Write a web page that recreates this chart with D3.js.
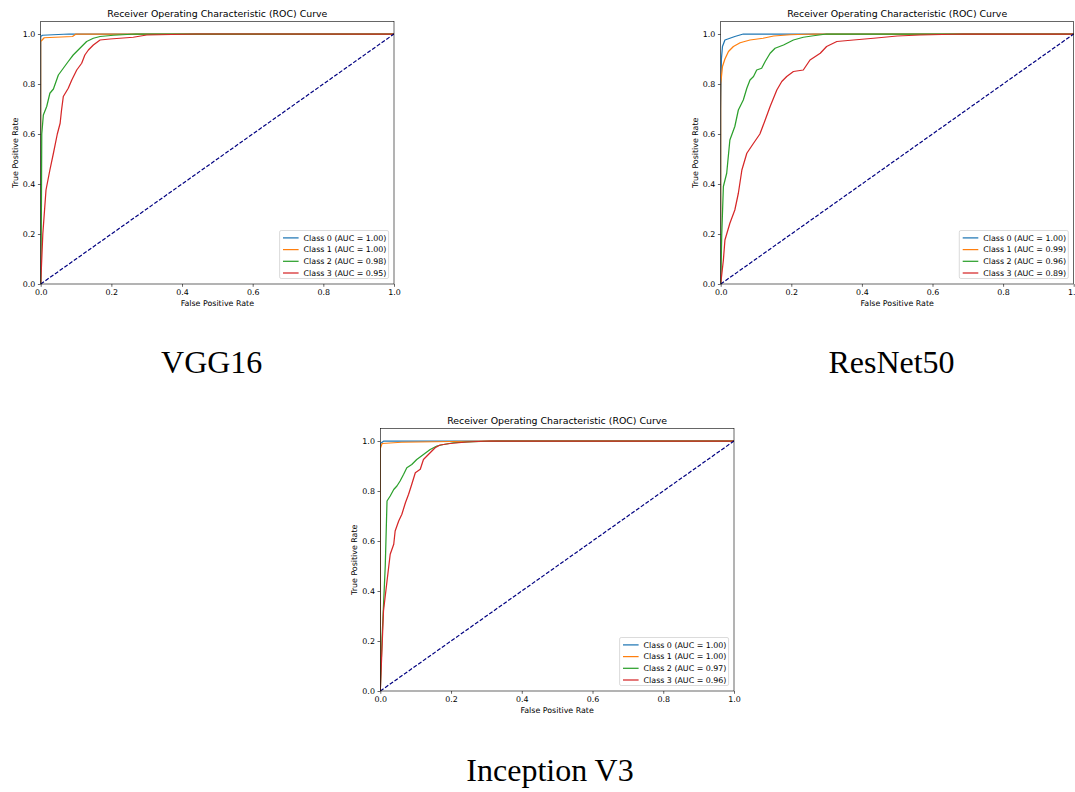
<!DOCTYPE html>
<html>
<head>
<meta charset="utf-8">
<script src="https://cdn.jsdelivr.net/npm/d3@7"></script>
<style>
  html, body { margin: 0; padding: 0; background: #fff; }
  svg { display: block; }
</style>
</head>
<body>
<svg id="chart" width="1075" height="792"></svg>
<script>
// ---------------- DATA ----------------
const chartTitle = "Receiver Operating Characteristic (ROC) Curve";
const xLabel = "False Positive Rate";
const yLabel = "True Positive Rate";
const tickValues = [0, 0.2, 0.4, 0.6, 0.8, 1.0];
const classNames = ["Class 0", "Class 1", "Class 2", "Class 3"];
const classColors = ["#1f77b4", "#ff7f0e", "#2ca02c", "#d62728"];
const modelNames = ["VGG16", "ResNet50", "Inception V3"];

// AUC per model (class 0..3)
const aucVGG16 = [1.00, 1.00, 0.98, 0.95];
const aucResNet50 = [1.00, 0.99, 0.96, 0.89];
const aucInception = [1.00, 1.00, 0.97, 0.96];

// ROC points [fpr, tpr]
const vgg16Class0 = [[0,0],[0,0.99],[0.005,0.995],[0.08,1.0],[1,1]];
const vgg16Class1 = [[0,0],[0,0.97],[0.01,0.985],[0.09,0.99],[0.1,1.0],[1,1]];
const vgg16Class2 = [[0,0],[0.002,0.3],[0.003,0.6],[0.0075,0.676],[0.017,0.71],[0.026,0.763],[0.036,0.78],
  [0.05,0.836],[0.064,0.863],[0.078,0.89],[0.092,0.916],[0.111,0.943],[0.13,0.97],[0.149,0.983],
  [0.168,0.99],[0.206,0.995],[0.27,1.0],[1,1]];
const vgg16Class3 = [[0,0],[0.006,0.2],[0.015,0.376],[0.026,0.456],[0.036,0.523],[0.047,0.6],[0.055,0.643],
  [0.059,0.696],[0.064,0.75],[0.078,0.783],[0.088,0.816],[0.102,0.856],[0.116,0.883],[0.125,0.916],
  [0.135,0.936],[0.149,0.956],[0.168,0.976],[0.196,0.98],[0.262,0.987],[0.3,0.996],[0.44,1.0],[1,1]];

const resnet50Class0 = [[0,0],[0,0.7],[0.002,0.9],[0.005,0.95],[0.012,0.976],[0.026,0.983],[0.04,0.99],[0.064,1.0],[1,1]];
const resnet50Class1 = [[0,0],[0,0.8],[0.005,0.87],[0.012,0.9],[0.022,0.93],[0.036,0.95],[0.055,0.965],
  [0.083,0.976],[0.12,0.983],[0.15,0.992],[0.197,0.997],[0.263,1.0],[1,1]];
const resnet50Class2 = [[0,0],[0.003,0.2],[0.0076,0.39],[0.017,0.443],[0.026,0.576],[0.04,0.63],[0.05,0.696],
  [0.064,0.736],[0.074,0.783],[0.083,0.816],[0.093,0.83],[0.102,0.856],[0.116,0.863],[0.126,0.89],
  [0.14,0.923],[0.154,0.943],[0.178,0.956],[0.206,0.976],[0.234,0.987],[0.263,0.993],[0.3,1.0],[1,1]];
const resnet50Class3 = [[0,0],[0.0076,0.096],[0.012,0.176],[0.026,0.243],[0.04,0.296],[0.05,0.363],[0.06,0.456],
  [0.074,0.523],[0.093,0.563],[0.111,0.6],[0.126,0.656],[0.14,0.71],[0.159,0.776],[0.173,0.81],
  [0.187,0.83],[0.206,0.85],[0.234,0.856],[0.253,0.896],[0.282,0.923],[0.3,0.95],[0.329,0.97],
  [0.376,0.976],[0.433,0.983],[0.5,0.992],[0.565,0.996],[0.688,1.0],[1,1]];

const inceptionClass0 = [[0,0],[0,0.99],[0.01,1.0],[1,1]];
const inceptionClass1 = [[0,0],[0,0.97],[0.005,0.99],[0.06,0.995],[0.2,0.998],[0.3,1.0],[1,1]];
const inceptionClass2 = [[0,0],[0.005,0.213],[0.014,0.5],[0.019,0.76],[0.028,0.78],[0.038,0.806],[0.047,0.82],
  [0.056,0.84],[0.066,0.867],[0.075,0.893],[0.089,0.906],[0.103,0.926],[0.122,0.946],[0.141,0.966],
  [0.16,0.98],[0.179,0.986],[0.207,0.993],[0.263,0.997],[0.33,1.0],[1,1]];
const inceptionClass3 = [[0,0],[0.009,0.32],[0.019,0.44],[0.028,0.547],[0.038,0.587],[0.042,0.64],[0.052,0.68],
  [0.061,0.707],[0.071,0.753],[0.08,0.787],[0.089,0.827],[0.099,0.873],[0.113,0.887],[0.122,0.926],
  [0.136,0.946],[0.155,0.973],[0.169,0.984],[0.198,0.99],[0.245,0.996],[0.31,1.0],[1,1]];

const diagonal = [[0,0],[1,1]];

// ---------------- LAYOUT ----------------
const svg = d3.select("#chart");
const sans = "'DejaVu Sans', sans-serif";
const serif = "'Liberation Serif', 'Times New Roman', serif";
const baseFont = 7.9;

const panels = [
  {name: modelNames[0], auc: aucVGG16, curves: [vgg16Class0, vgg16Class1, vgg16Class2, vgg16Class3],
   left: 40.7, right: 394, bottom: 284, captionX: 211.7, captionY: 373},
  {name: modelNames[1], auc: aucResNet50, curves: [resnet50Class0, resnet50Class1, resnet50Class2, resnet50Class3],
   left: 720.7, right: 1073.7, bottom: 284, captionX: 891.5, captionY: 373},
  {name: modelNames[2], auc: aucInception, curves: [inceptionClass0, inceptionClass1, inceptionClass2, inceptionClass3],
   left: 380.3, right: 734, bottom: 691, captionX: 550, captionY: 781}
];

panels.forEach((p, pi) => {
  const unit = 250; // px per 1.0 tpr
  const top = p.bottom - unit * 1.05;
  const x = d3.scaleLinear().domain([0, 1]).range([p.left, p.right]);
  const y = d3.scaleLinear().domain([0, 1.05]).range([p.bottom, top]);
  const g = svg.append("g");

  const clipId = "clip" + pi;
  svg.append("clipPath").attr("id", clipId).append("rect")
    .attr("x", p.left).attr("y", top).attr("width", p.right - p.left).attr("height", p.bottom - top);

  // axes
  const fmt = d3.format(".1f");
  const xAxis = g.append("g").attr("transform", `translate(0,${p.bottom})`)
    .call(d3.axisBottom(x).tickValues(tickValues).tickFormat(fmt).tickSize(2.8).tickPadding(2.6));
  const yAxis = g.append("g").attr("transform", `translate(${p.left},0)`)
    .call(d3.axisLeft(y).tickValues(tickValues).tickFormat(fmt).tickSize(2.8).tickPadding(2.6));
  [xAxis, yAxis].forEach(a => {
    a.select(".domain").remove();
    a.selectAll("line").attr("stroke", "#000").attr("stroke-width", 0.6);
    a.selectAll("text").attr("font-family", sans).attr("font-size", baseFont).attr("fill", "#000");
  });

  // curves
  const line = d3.line().x(d => x(d[0])).y(d => y(d[1]));
  const plot = g.append("g").attr("clip-path", `url(#${clipId})`);
  p.curves.forEach((c, ci) => {
    plot.append("path").datum(c).attr("d", line)
      .attr("fill", "none").attr("stroke", classColors[ci]).attr("stroke-width", 1.25)
      .attr("stroke-linejoin", "round");
  });
  plot.append("path").datum(diagonal).attr("d", line)
    .attr("fill", "none").attr("stroke", "#000080").attr("stroke-width", 1.2)
    .attr("stroke-dasharray", "4,1.8");

  // frame
  g.append("rect").attr("x", p.left).attr("y", top)
    .attr("width", p.right - p.left).attr("height", p.bottom - top)
    .attr("fill", "none").attr("stroke", "#000").attr("stroke-width", 0.6);

  // title and axis labels
  g.append("text").attr("x", (p.left + p.right) / 2).attr("y", top - 4.9)
    .attr("text-anchor", "middle").attr("font-family", sans).attr("font-size", 9.4)
    .text(chartTitle);
  g.append("text").attr("x", (p.left + p.right) / 2).attr("y", p.bottom + 22)
    .attr("text-anchor", "middle").attr("font-family", sans).attr("font-size", baseFont)
    .text(xLabel);
  const ymid = (p.bottom + top) / 2;
  g.append("text").attr("transform", `translate(${p.left - 23},${ymid}) rotate(-90)`)
    .attr("text-anchor", "middle").attr("font-family", sans).attr("font-size", baseFont)
    .text(yLabel);

  // legend
  const lgW = 109, lgH = 48;
  const lgX = p.right - 5.4 - lgW, lgY = p.bottom - 5.5 - lgH;
  const lg = g.append("g");
  lg.append("rect").attr("x", lgX).attr("y", lgY).attr("width", lgW).attr("height", lgH)
    .attr("rx", 1.6).attr("fill", "rgba(255,255,255,0.8)").attr("stroke", "#cccccc").attr("stroke-width", 0.7);
  classNames.forEach((cn, ci) => {
    const ry = lgY + 7.4 + ci * 11.7;
    lg.append("line").attr("x1", lgX + 3.4).attr("x2", lgX + 19).attr("y1", ry).attr("y2", ry)
      .attr("stroke", classColors[ci]).attr("stroke-width", 1.25);
    lg.append("text").attr("x", lgX + 24).attr("y", ry).attr("dy", "0.35em")
      .attr("font-family", sans).attr("font-size", baseFont)
      .text(`${cn} (AUC = ${p.auc[ci].toFixed(2)})`);
  });

  // caption
  svg.append("text").attr("x", p.captionX).attr("y", p.captionY)
    .attr("text-anchor", "middle").attr("font-family", serif).attr("font-size", 32)
    .attr("fill", "#000").text(p.name);
});
</script>
</body>
</html>
